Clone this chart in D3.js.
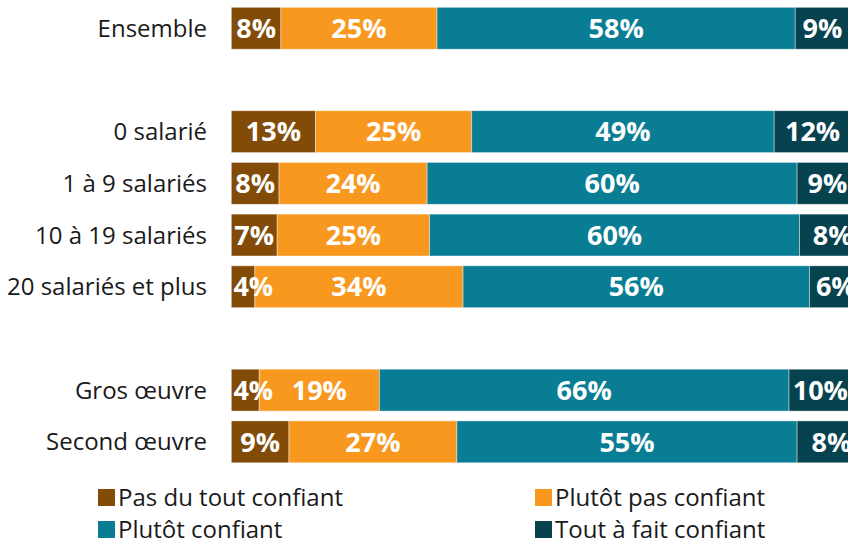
<!DOCTYPE html>
<html>
<head>
<meta charset="utf-8">
<script src="https://cdn.jsdelivr.net/npm/d3@7"></script>
<style>
  body { margin: 0; background: #fff; }
  svg { display: block; font-family: "Open Sans", sans-serif; }
</style>
</head>
<body>
<svg id="svg"></svg>
<script>
// categories (blank keys make the gaps between groups)
var categories = ["Ensemble", "gap1", "0 salarié", "1 à 9 salariés", "10 à 19 salariés", "20 salariés et plus", "gap2", "Gros œuvre", "Second œuvre"];
var rows = ["Ensemble", "0 salarié", "1 à 9 salariés", "10 à 19 salariés", "20 salariés et plus", "Gros œuvre", "Second œuvre"];
var series = ["Pas du tout confiant", "Plutôt pas confiant", "Plutôt confiant", "Tout à fait confiant"];
var colors = ["#824C08", "#F8981F", "#087D94", "#06434F"];

// bar lengths (%)
var pasDuTout   = [8.0, 13.6, 7.7, 7.4, 3.8, 4.5, 9.3];
var plutotPas   = [25.2, 25.2, 23.9, 24.6, 33.6, 19.4, 27.1];
var plutot      = [57.8, 48.8, 59.7, 59.7, 55.9, 66.1, 54.9];
var toutAFait   = [8.8, 12.4, 9.8, 10.7, 8.5, 10.1, 11.1];

// printed labels
var lblPasDuTout = ["8%", "13%", "8%", "7%", "4%", "4%", "9%"];
var lblPlutotPas = ["25%", "25%", "24%", "25%", "34%", "19%", "27%"];
var lblPlutot    = ["58%", "49%", "60%", "60%", "56%", "66%", "55%"];
var lblToutAFait = ["9%", "12%", "9%", "8%", "6%", "10%", "8%"];

var width = 848, height = 543;
var svg = d3.select("#svg").attr("width", width).attr("height", height);

var xScale = d3.scaleLinear().domain([0, 100]).range([231.3, 851]);
var yScale = d3.scaleBand().domain(categories).range([-2.5, 472.6]).padding(0.19);

var values = [pasDuTout, plutotPas, plutot, toutAFait];
var labels = [lblPasDuTout, lblPlutotPas, lblPlutot, lblToutAFait];

var data = [];
rows.forEach((r, i) => {
	var start = 0;
	values.forEach((v, s) => {
		data.push({row: r, s: s, x0: start, x1: start + v[i], label: labels[s][i]});
		start += v[i];
	});
});

svg.append("g").selectAll("rect")
	.data(data)
	.join("rect")
	.attr("x", d => xScale(d.x0))
	.attr("y", d => yScale(d.row))
	.attr("width", d => xScale(d.x1) - xScale(d.x0))
	.attr("height", yScale.bandwidth())
	.attr("fill", d => colors[d.s])
	.attr("stroke", "#ffffff")
	.attr("stroke-opacity", 0.5)
	.attr("stroke-width", 0.8);

// value labels, the small first ones are pushed right so they stay in the bar
svg.append("g").selectAll("text")
	.data(data)
	.join("text")
	.attr("x", d => {
		var c = (xScale(d.x0) + xScale(d.x1)) / 2;
		if (d.s == 0) c = Math.max(c, xScale(0) + 22);
		return c;
	})
	.attr("y", d => yScale(d.row) + yScale.bandwidth() / 2)
	.attr("dy", "0.36em")
	.attr("text-anchor", "middle")
	.attr("fill", "#fff")
	.attr("font-weight", "bold")
	.attr("font-size", "27px")
	.text(d => d.label);

// category labels
svg.append("g").selectAll("text")
	.data(rows)
	.join("text")
	.attr("x", 207)
	.attr("y", d => yScale(d) + yScale.bandwidth() / 2)
	.attr("dy", "0.36em")
	.attr("text-anchor", "end")
	.attr("fill", "#1a1a1a")
	.attr("font-size", "24px")
	.text(d => d);

// legend
var legendPos = [[98, 489], [535, 489], [98, 521], [535, 521]];
var legend = svg.append("g").selectAll("g")
	.data(series)
	.join("g")
	.attr("transform", (d, i) => `translate(${legendPos[i][0]}, ${legendPos[i][1]})`);

legend.append("rect")
	.attr("width", 17)
	.attr("height", 17)
	.attr("fill", (d, i) => colors[i]);

legend.append("text")
	.attr("x", 20)
	.attr("y", 8.5)
	.attr("dy", "0.36em")
	.attr("fill", "#1a1a1a")
	.attr("font-size", "24px")
	.text(d => d);
</script>
</body>
</html>
